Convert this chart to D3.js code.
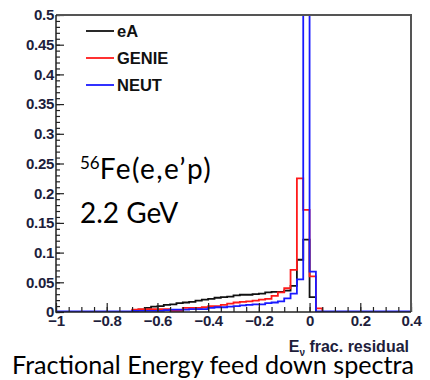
<!DOCTYPE html>
<html>
<head>
<meta charset="utf-8">
<script src="https://cdn.jsdelivr.net/npm/d3@7"></script>
<style>
  body { margin: 0; background: #fff; }
  svg { display: block; }
</style>
</head>
<body>
<div id="chart"></div>
<script>
// histogram binning: 56 bins of 0.025 from -1 to 0.4
var binStart = -1, binWidth = 0.025;

// bin contents (bin index 0 = [-1, -0.975])
var eA = [0,0,0,0,0,0,0,0,0,0,0,0,
  0.002,0.004,0.007,0.009,0.010,0.012,0.013,0.015,0.016,0.017,0.019,0.021,
  0.022,0.024,0.025,0.026,0.028,0.029,0.029,0.030,0.031,0.033,0.034,0.034,
  0.036,0.044,0.088,0.122,0.025,
  0,0,0,0,0,0,0,0,0,0,0,0,0,0,0];
var genie = [0,0,0,0,0,0,0,0,0,0,0,0,
  0.004,0.005,0.005,0.005,0.005,0.005,0.002,0.002,0.007,0.007,0.007,0.008,
  0.010,0.010,0.012,0.014,0.016,0.017,0.018,0.019,0.021,0.022,0.027,0.033,
  0.040,0.071,0.225,0.172,0.060,0.006,
  0,0,0,0,0,0,0,0,0,0,0,0,0,0];
var neut = [0.001,0.001,0.001,0.001,0.001,0.001,0.001,0.001,0.001,0.001,0.001,0.001,
  0.002,0.002,0.002,0.002,0.002,0.003,0.004,0.004,0.004,0.005,0.005,0.005,
  0.007,0.008,0.008,0.009,0.010,0.011,0.012,0.013,0.013,0.015,0.016,0.018,
  0.023,0.031,0.055,0.95,0.068,
  0.001,0.001,0.001,0.001,0.001,0.001,0.001,0.001,0.001,0.001,0.001,0.001,0.001,0.001,0.001];

var seriesNames = ["eA", "GENIE", "NEUT"];
var seriesColors = ["#111111", "#ff1a1a", "#1a1aff"];
var xTicks = [-1, -0.8, -0.6, -0.4, -0.2, 0, 0.2, 0.4];
var yTicks = [0, 0.05, 0.1, 0.15, 0.2, 0.25, 0.3, 0.35, 0.4, 0.45, 0.5];

var width = 430, height = 380;
var plot = {left: 56, right: 411, top: 15, bottom: 312};

var x = d3.scaleLinear().domain([-1, 0.4]).range([plot.left, plot.right]);
var y = d3.scaleLinear().domain([0, 0.5]).range([plot.bottom, plot.top]);

var svg = d3.select("#chart").append("svg")
    .attr("width", width)
    .attr("height", height);

svg.append("defs").append("clipPath")
    .attr("id", "clip")
  .append("rect")
    .attr("x", plot.left)
    .attr("y", plot.top)
    .attr("width", plot.right - plot.left)
    .attr("height", plot.bottom - plot.top);

// step outline like ROOT's histogram drawing
function stepPath(values) {
  var p = d3.path();
  p.moveTo(x(binStart), y(0));
  values.forEach(function(v, i) {
    var x0 = binStart + i * binWidth, x1 = x0 + binWidth;
    p.lineTo(x(x0), y(v));
    p.lineTo(x(x1), y(v));
  });
  p.lineTo(x(binStart + values.length * binWidth), y(0));
  return p.toString();
}

var hists = svg.append("g").attr("clip-path", "url(#clip)");
[eA, genie, neut].forEach(function(vals, k) {
  hists.append("path")
      .attr("d", stepPath(vals))
      .attr("fill", "none")
      .attr("stroke", seriesColors[k])
      .attr("stroke-width", 1.8);
});

var fmt = d3.format("~g");
var labelColor = "#1e1e3c";

// x axis: ticks pointing up into the frame
svg.append("g")
    .attr("transform", "translate(0," + plot.bottom + ")")
    .call(d3.axisBottom(x).tickValues(d3.range(-1, 0.4001, 0.05)).tickSize(-5).tickFormat(""));
svg.append("g")
    .attr("transform", "translate(0," + plot.bottom + ")")
    .call(d3.axisBottom(x).tickValues(xTicks).tickSizeInner(-9).tickSizeOuter(0).tickPadding(3).tickFormat(fmt));

// y axis: ticks pointing right into the frame
svg.append("g")
    .attr("transform", "translate(" + plot.left + ",0)")
    .call(d3.axisLeft(y).tickValues(d3.range(0, 0.5001, 0.01)).tickSize(-4).tickFormat(""));
svg.append("g")
    .attr("transform", "translate(" + plot.left + ",0)")
    .call(d3.axisLeft(y).tickValues(yTicks).tickSizeInner(-8).tickSizeOuter(0).tickPadding(2).tickFormat(fmt));

svg.selectAll(".domain").remove();
svg.selectAll(".tick line").attr("stroke", "#222").attr("stroke-width", 1.2);
svg.selectAll(".tick text")
    .attr("fill", labelColor)
    .style("font-family", "'Liberation Sans', Arial, sans-serif")
    .style("font-weight", "bold")
    .style("font-size", "15px")
    .style("letter-spacing", "-0.3px");

// frame
svg.append("path")
    .attr("d", "M" + plot.left + "," + plot.top + "H" + plot.right + "V" + plot.bottom)
    .attr("fill", "none")
    .attr("stroke", "#555")
    .attr("stroke-width", 2);
svg.append("path")
    .attr("d", "M" + plot.left + "," + plot.top + "V" + plot.bottom + "H" + plot.right)
    .attr("fill", "none")
    .attr("stroke", "#222")
    .attr("stroke-width", 1.5);

// legend
var legend = svg.append("g");
seriesNames.forEach(function(name, k) {
  var ly = 31 + k * 27;
  legend.append("line")
      .attr("x1", 86).attr("x2", 114)
      .attr("y1", ly).attr("y2", ly)
      .attr("stroke", seriesColors[k])
      .attr("stroke-width", 1.8);
  legend.append("text")
      .attr("x", 117).attr("y", ly + 6)
      .style("font-family", "'Liberation Sans', Arial, sans-serif")
      .style("font-weight", "bold")
      .style("font-size", "16.5px")
      .attr("fill", "#111")
      .text(name);
});

// x axis title
var xt = svg.append("text")
    .attr("x", 409).attr("y", 352)
    .attr("text-anchor", "end")
    .attr("fill", labelColor)
    .style("font-family", "'Liberation Sans', Arial, sans-serif")
    .style("font-weight", "bold")
    .style("font-size", "16px");
xt.append("tspan").text("E");
xt.append("tspan").attr("dy", 4).style("font-size", "10px").text("ν");
xt.append("tspan").attr("dy", -4).text(" frac. residual");

// annotations
var note = svg.append("g")
    .style("font-family", "Lato, 'Open Sans', sans-serif")
    .attr("fill", "#000");
var fe = note.append("text").attr("x", 80).attr("y", 179).style("font-size", "28px");
fe.append("tspan").attr("dy", -10).style("font-size", "17px").text("56");
fe.append("tspan").attr("dy", 10).style("letter-spacing", "1.4px").text("Fe(e,e’p)");
note.append("text").attr("x", 80).attr("y", 223).style("font-size", "28px").text("2.2 GeV");

svg.append("text")
    .attr("x", 12).attr("y", 374)
    .attr("textLength", 402)
    .attr("lengthAdjust", "spacingAndGlyphs")
    .style("font-family", "Lato, 'Open Sans', sans-serif")
    .style("font-size", "25px")
    .attr("fill", "#000")
    .text("Fractional Energy feed down spectra");
</script>
</body>
</html>
